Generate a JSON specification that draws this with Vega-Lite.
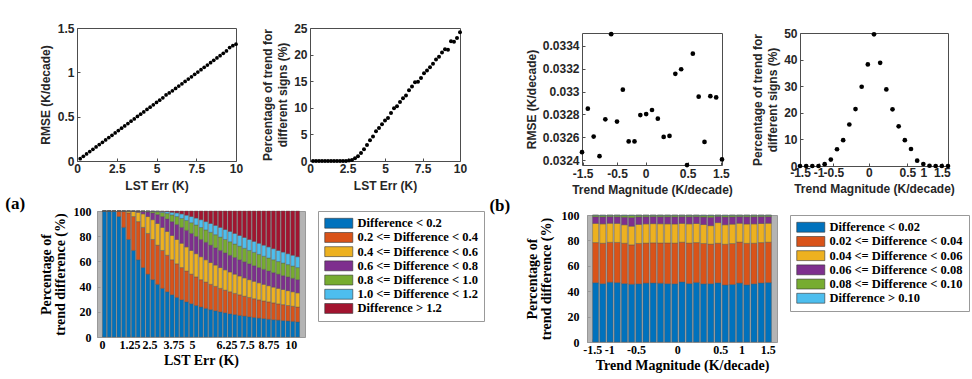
{
"$schema": "https://vega.github.io/schema/vega-lite/v6.json",
"background": "white",
"padding": {"left": 5, "top": 21, "right": 2, "bottom": 2},
"datasets": {
"rmseErr": [
{"lstErr":0.2,"rmse":0.026},{"lstErr":0.4,"rmse":0.053},{"lstErr":0.6,"rmse":0.079},{"lstErr":0.8,"rmse":0.106},{"lstErr":1.0,"rmse":0.132},
{"lstErr":1.2,"rmse":0.158},{"lstErr":1.4,"rmse":0.185},{"lstErr":1.6,"rmse":0.211},{"lstErr":1.8,"rmse":0.238},{"lstErr":2.0,"rmse":0.264},
{"lstErr":2.2,"rmse":0.29},{"lstErr":2.4,"rmse":0.317},{"lstErr":2.6,"rmse":0.343},{"lstErr":2.8,"rmse":0.37},{"lstErr":3.0,"rmse":0.396},
{"lstErr":3.2,"rmse":0.422},{"lstErr":3.4,"rmse":0.449},{"lstErr":3.6,"rmse":0.475},{"lstErr":3.8,"rmse":0.502},{"lstErr":4.0,"rmse":0.528},
{"lstErr":4.2,"rmse":0.554},{"lstErr":4.4,"rmse":0.581},{"lstErr":4.6,"rmse":0.607},{"lstErr":4.8,"rmse":0.634},{"lstErr":5.0,"rmse":0.66},
{"lstErr":5.2,"rmse":0.686},{"lstErr":5.4,"rmse":0.713},{"lstErr":5.6,"rmse":0.745},{"lstErr":5.8,"rmse":0.768},{"lstErr":6.0,"rmse":0.792},
{"lstErr":6.2,"rmse":0.818},{"lstErr":6.4,"rmse":0.845},{"lstErr":6.6,"rmse":0.871},{"lstErr":6.8,"rmse":0.898},{"lstErr":7.0,"rmse":0.924},
{"lstErr":7.2,"rmse":0.95},{"lstErr":7.4,"rmse":0.977},{"lstErr":7.6,"rmse":1.003},{"lstErr":7.8,"rmse":1.03},{"lstErr":8.0,"rmse":1.056},
{"lstErr":8.2,"rmse":1.082},{"lstErr":8.4,"rmse":1.109},{"lstErr":8.6,"rmse":1.135},{"lstErr":8.8,"rmse":1.162},{"lstErr":9.0,"rmse":1.188},
{"lstErr":9.2,"rmse":1.214},{"lstErr":9.4,"rmse":1.241},{"lstErr":9.6,"rmse":1.28},{"lstErr":9.8,"rmse":1.3},{"lstErr":10.0,"rmse":1.318}
],
"signErr": [
{"lstErr":0.2,"pct":0},{"lstErr":0.4,"pct":0},{"lstErr":0.6,"pct":0},{"lstErr":0.8,"pct":0},{"lstErr":1.0,"pct":0},
{"lstErr":1.2,"pct":0},{"lstErr":1.4,"pct":0},{"lstErr":1.6,"pct":0},{"lstErr":1.8,"pct":0},{"lstErr":2.0,"pct":0},
{"lstErr":2.2,"pct":0},{"lstErr":2.4,"pct":0},{"lstErr":2.6,"pct":0.1},{"lstErr":2.8,"pct":0.2},{"lstErr":3.0,"pct":0.5},
{"lstErr":3.2,"pct":0.9},{"lstErr":3.4,"pct":1.5},{"lstErr":3.6,"pct":2.2},{"lstErr":3.8,"pct":3.0},{"lstErr":4.0,"pct":3.9},
{"lstErr":4.2,"pct":4.6},{"lstErr":4.4,"pct":5.6},{"lstErr":4.6,"pct":6.2},{"lstErr":4.8,"pct":6.9},{"lstErr":5.0,"pct":7.6},
{"lstErr":5.2,"pct":8.1},{"lstErr":5.4,"pct":9.0},{"lstErr":5.6,"pct":9.9},{"lstErr":5.8,"pct":10.3},{"lstErr":6.0,"pct":11.1},
{"lstErr":6.2,"pct":11.8},{"lstErr":6.4,"pct":12.3},{"lstErr":6.6,"pct":13.3},{"lstErr":6.8,"pct":14.0},{"lstErr":7.0,"pct":14.8},
{"lstErr":7.2,"pct":14.9},{"lstErr":7.4,"pct":15.6},{"lstErr":7.6,"pct":16.5},{"lstErr":7.8,"pct":17.0},{"lstErr":8.0,"pct":17.6},
{"lstErr":8.2,"pct":18.3},{"lstErr":8.4,"pct":19.1},{"lstErr":8.6,"pct":19.6},{"lstErr":8.8,"pct":20.4},{"lstErr":9.0,"pct":21.0},
{"lstErr":9.2,"pct":20.9},{"lstErr":9.4,"pct":22.5},{"lstErr":9.6,"pct":22.4},{"lstErr":9.8,"pct":23.1},{"lstErr":10.0,"pct":24.2}
],
"stackA": [
{"e":0,"c1":100,"c2":0,"c3":0,"c4":0,"c5":0,"c6":0,"c7":0},
{"e":0.25,"c1":100,"c2":0,"c3":0,"c4":0,"c5":0,"c6":0,"c7":0},
{"e":0.5,"c1":99.7,"c2":0.3,"c3":0,"c4":0,"c5":0,"c6":0,"c7":0},
{"e":0.75,"c1":95.6,"c2":4.4,"c3":0,"c4":0,"c5":0,"c6":0,"c7":0},
{"e":1.0,"c1":87.0,"c2":12.8,"c3":0.2,"c4":0,"c5":0,"c6":0,"c7":0},
{"e":1.25,"c1":77.4,"c2":21.1,"c3":1.5,"c4":0,"c5":0,"c6":0,"c7":0},
{"e":1.5,"c1":68.7,"c2":26.9,"c3":4.1,"c4":0.3,"c5":0,"c6":0,"c7":0},
{"e":1.75,"c1":61.3,"c2":30.3,"c3":7.4,"c4":0.9,"c5":0.1,"c6":0,"c7":0},
{"e":2.0,"c1":55.1,"c2":31.9,"c3":10.7,"c4":2.0,"c5":0.3,"c6":0,"c7":0},
{"e":2.25,"c1":49.9,"c2":32.3,"c3":13.4,"c4":3.7,"c5":0.6,"c6":0.1,"c7":0},
{"e":2.5,"c1":45.5,"c2":31.9,"c3":15.7,"c4":5.4,"c5":1.2,"c6":0.2,"c7":0.1},
{"e":2.75,"c1":41.8,"c2":31.1,"c3":17.2,"c4":7.1,"c5":2.2,"c6":0.5,"c7":0.1},
{"e":3.0,"c1":38.6,"c2":30.1,"c3":18.3,"c4":8.6,"c5":3.2,"c6":0.9,"c7":0.3},
{"e":3.25,"c1":35.9,"c2":29.0,"c3":18.9,"c4":9.9,"c5":4.3,"c6":1.5,"c7":0.5},
{"e":3.5,"c1":33.5,"c2":27.8,"c3":19.3,"c4":11.0,"c5":5.3,"c6":2.1,"c7":1.0},
{"e":3.75,"c1":31.4,"c2":26.7,"c3":19.3,"c4":11.9,"c5":6.3,"c6":2.9,"c7":1.5},
{"e":4.0,"c1":29.5,"c2":25.6,"c3":19.3,"c4":12.6,"c5":7.1,"c6":3.6,"c7":2.3},
{"e":4.25,"c1":27.9,"c2":24.5,"c3":19.1,"c4":13.1,"c5":7.9,"c6":4.2,"c7":3.3},
{"e":4.5,"c1":26.4,"c2":23.5,"c3":18.8,"c4":13.5,"c5":8.5,"c6":4.9,"c7":4.4},
{"e":4.75,"c1":25.0,"c2":22.7,"c3":18.4,"c4":13.7,"c5":9.1,"c6":5.5,"c7":5.6},
{"e":5.0,"c1":23.8,"c2":21.7,"c3":18.2,"c4":13.7,"c5":9.5,"c6":6.2,"c7":6.9},
{"e":5.25,"c1":22.7,"c2":20.9,"c3":17.7,"c4":13.9,"c5":9.8,"c6":6.6,"c7":8.4},
{"e":5.5,"c1":21.7,"c2":20.1,"c3":17.3,"c4":13.8,"c5":10.2,"c6":7.0,"c7":9.9},
{"e":5.75,"c1":20.8,"c2":19.4,"c3":16.9,"c4":13.7,"c5":10.4,"c6":7.4,"c7":11.4},
{"e":6.0,"c1":19.9,"c2":18.7,"c3":16.5,"c4":13.6,"c5":10.6,"c6":7.7,"c7":13.0},
{"e":6.25,"c1":19.2,"c2":18.0,"c3":16.1,"c4":13.5,"c5":10.6,"c6":7.9,"c7":14.7},
{"e":6.5,"c1":18.4,"c2":17.5,"c3":15.7,"c4":13.3,"c5":10.7,"c6":8.2,"c7":16.2},
{"e":6.75,"c1":17.8,"c2":16.8,"c3":15.3,"c4":13.2,"c5":10.7,"c6":8.4,"c7":17.8},
{"e":7.0,"c1":17.1,"c2":16.4,"c3":14.9,"c4":12.9,"c5":10.8,"c6":8.5,"c7":19.4},
{"e":7.25,"c1":16.6,"c2":15.8,"c3":14.5,"c4":12.8,"c5":10.7,"c6":8.6,"c7":21.0},
{"e":7.5,"c1":16.0,"c2":15.4,"c3":14.1,"c4":12.6,"c5":10.6,"c6":8.7,"c7":22.6},
{"e":7.75,"c1":15.5,"c2":14.9,"c3":13.8,"c4":12.4,"c5":10.6,"c6":8.7,"c7":24.1},
{"e":8.0,"c1":15.0,"c2":14.5,"c3":13.5,"c4":12.1,"c5":10.5,"c6":8.8,"c7":25.6},
{"e":8.25,"c1":14.6,"c2":14.0,"c3":13.2,"c4":11.9,"c5":10.4,"c6":8.8,"c7":27.1},
{"e":8.5,"c1":14.1,"c2":13.8,"c3":12.8,"c4":11.7,"c5":10.3,"c6":8.8,"c7":28.5},
{"e":8.75,"c1":13.7,"c2":13.4,"c3":12.5,"c4":11.5,"c5":10.2,"c6":8.8,"c7":29.9},
{"e":9.0,"c1":13.4,"c2":12.9,"c3":12.3,"c4":11.3,"c5":10.0,"c6":8.8,"c7":31.3},
{"e":9.25,"c1":13.0,"c2":12.7,"c3":12.0,"c4":11.0,"c5":10.0,"c6":8.7,"c7":32.6},
{"e":9.5,"c1":12.7,"c2":12.3,"c3":11.8,"c4":10.9,"c5":9.8,"c6":8.6,"c7":33.9},
{"e":9.75,"c1":12.4,"c2":12.0,"c3":11.5,"c4":10.7,"c5":9.7,"c6":8.6,"c7":35.1},
{"e":10.0,"c1":12.0,"c2":11.8,"c3":11.2,"c4":10.5,"c5":9.6,"c6":8.6,"c7":36.3}
],
"rmseTrend": [
{"idx":1,"rmse":0.032472},{"idx":2,"rmse":0.032851},{"idx":3,"rmse":0.032608},{"idx":4,"rmse":0.032437},{"idx":5,"rmse":0.032758},
{"idx":6,"rmse":0.0335},{"idx":7,"rmse":0.032738},{"idx":8,"rmse":0.033016},{"idx":9,"rmse":0.032565},{"idx":10,"rmse":0.032565},
{"idx":11,"rmse":0.032795},{"idx":12,"rmse":0.032804},{"idx":13,"rmse":0.032839},{"idx":14,"rmse":0.032764},{"idx":15,"rmse":0.032605},
{"idx":16,"rmse":0.032613},{"idx":17,"rmse":0.033154},{"idx":18,"rmse":0.033194},{"idx":19,"rmse":0.032359},{"idx":20,"rmse":0.03333},
{"idx":21,"rmse":0.032955},{"idx":22,"rmse":0.032561},{"idx":23,"rmse":0.03296},{"idx":24,"rmse":0.032949},{"idx":25,"rmse":0.032409}
],
"signTrend": [
{"idx":1,"pct":0},{"idx":2,"pct":0},{"idx":3,"pct":0},{"idx":4,"pct":0},{"idx":5,"pct":0.7},
{"idx":6,"pct":2.4},{"idx":7,"pct":6.3},{"idx":8,"pct":9.7},{"idx":9,"pct":15.6},{"idx":10,"pct":21.4},
{"idx":11,"pct":29.8},{"idx":12,"pct":38.2},{"idx":13,"pct":49.5},{"idx":14,"pct":38.8},{"idx":15,"pct":28.8},
{"idx":16,"pct":21.3},{"idx":17,"pct":14.9},{"idx":18,"pct":9.7},{"idx":19,"pct":6.4},{"idx":20,"pct":2.0},
{"idx":21,"pct":0.75},{"idx":22,"pct":0.1},{"idx":23,"pct":0},{"idx":24,"pct":0},{"idx":25,"pct":0}
],
"stackB": [
{"idx":1,"c1":46.7,"c2":31.6,"c3":15.1,"c4":5.2,"c5":1.2,"c6":0.2},
{"idx":2,"c1":45.9,"c2":31.9,"c3":15.2,"c4":5.5,"c5":1.2,"c6":0.3},
{"idx":3,"c1":47.1,"c2":31.4,"c3":15.0,"c4":5.2,"c5":1.1,"c6":0.2},
{"idx":4,"c1":46.8,"c2":31.6,"c3":15.0,"c4":5.2,"c5":1.2,"c6":0.2},
{"idx":5,"c1":46.0,"c2":31.8,"c3":14.5,"c4":6.0,"c5":1.4,"c6":0.3},
{"idx":6,"c1":45.5,"c2":31.0,"c3":14.7,"c4":6.8,"c5":1.7,"c6":0.3},
{"idx":7,"c1":45.8,"c2":31.8,"c3":15.0,"c4":5.9,"c5":1.3,"c6":0.2},
{"idx":8,"c1":46.4,"c2":31.5,"c3":15.1,"c4":5.6,"c5":1.2,"c6":0.2},
{"idx":9,"c1":46.5,"c2":31.6,"c3":15.1,"c4":5.5,"c5":1.1,"c6":0.2},
{"idx":10,"c1":46.3,"c2":31.7,"c3":15.1,"c4":5.5,"c5":1.2,"c6":0.2},
{"idx":11,"c1":45.9,"c2":32.1,"c3":15.0,"c4":5.6,"c5":1.2,"c6":0.2},
{"idx":12,"c1":45.8,"c2":32.1,"c3":15.0,"c4":5.6,"c5":1.3,"c6":0.2},
{"idx":13,"c1":47.3,"c2":31.3,"c3":14.8,"c4":5.3,"c5":1.1,"c6":0.2},
{"idx":14,"c1":46.0,"c2":31.9,"c3":15.1,"c4":5.6,"c5":1.2,"c6":0.2},
{"idx":15,"c1":46.9,"c2":31.4,"c3":15.0,"c4":5.4,"c5":1.1,"c6":0.2},
{"idx":16,"c1":45.8,"c2":31.8,"c3":14.9,"c4":5.9,"c5":1.3,"c6":0.3},
{"idx":17,"c1":45.9,"c2":31.2,"c3":14.5,"c4":6.6,"c5":1.5,"c6":0.3},
{"idx":18,"c1":46.6,"c2":31.2,"c3":16.2,"c4":4.9,"c5":0.9,"c6":0.2},
{"idx":19,"c1":44.9,"c2":32.1,"c3":15.3,"c4":6.1,"c5":1.3,"c6":0.3},
{"idx":20,"c1":45.3,"c2":32.2,"c3":15.3,"c4":5.7,"c5":1.3,"c6":0.2},
{"idx":21,"c1":46.4,"c2":32.3,"c3":14.8,"c4":5.2,"c5":1.1,"c6":0.2},
{"idx":22,"c1":45.0,"c2":32.7,"c3":15.2,"c4":5.7,"c5":1.2,"c6":0.2},
{"idx":23,"c1":45.8,"c2":32.0,"c3":15.2,"c4":5.6,"c5":1.2,"c6":0.2},
{"idx":24,"c1":46.5,"c2":31.8,"c3":15.0,"c4":5.4,"c5":1.1,"c6":0.2},
{"idx":25,"c1":46.8,"c2":31.8,"c3":14.9,"c4":5.2,"c5":1.1,"c6":0.2}
]
},
"config": {
"view": {"stroke": "#4d4d4d", "strokeWidth": 1},
"axis": {"grid": false, "domain": false, "tickSize": -3, "tickColor": "#4d4d4d", "labelColor": "#262626", "titleColor": "#262626", "labelFont": "Liberation Sans", "labelFontWeight": "bold", "labelFontSize": 12, "titleFont": "Liberation Sans", "titleFontWeight": "bold", "titleFontSize": 12, "labelOverlap": false, "labelFlush": false, "labelExpr": "datum.value + ''"},
"legend": {"orient": "right", "offset": 12, "padding": 6, "strokeColor": "#999999", "fillColor": "#ffffff", "labelFont": "Liberation Serif", "labelFontWeight": "bold", "labelFontSize": 12.5, "labelColor": "#000000", "symbolType": "M-1,-0.9H4.1V0.9H-1Z", "symbolSize": 121, "symbolStrokeColor": "#333333", "symbolStrokeWidth": 0.6, "symbolOpacity": 1, "labelOffset": 21, "rowPadding": 1.2}
},
"resolve": {"scale": {"color": "independent"}, "legend": {"color": "independent"}},
"spacing": 4,
"hconcat": [
{
"title": {"text": "(a)", "orient": "left", "anchor": "end", "frame": "bounds", "angle": 0, "align": "right", "baseline": "top", "font": "Liberation Serif", "fontSize": 17, "fontWeight": "bold", "color": "#000000", "offset": -8, "dy": 174},
"spacing": 12,
"resolve": {"scale": {"color": "independent"}, "legend": {"color": "independent"}},
"vconcat": [
{
"spacing": 0,
"hconcat": [
{"width": 1, "height": 1, "view": {"stroke": null}, "data": {"values": []}, "mark": "point", "encoding": {}},
{
"spacing": 17,
"hconcat": [
{
"width": 159, "height": 133,
"data": {"name": "rmseErr"},
"mark": {"type": "circle", "color": "#000000", "opacity": 1, "size": 14},
"encoding": {
"x": {"field": "lstErr", "type": "quantitative", "scale": {"domain": [0, 10], "nice": false}, "axis": {"values": [0, 2.5, 5, 7.5, 10], "title": "LST Err (K)", "labelPadding": 5, "titlePadding": 6}},
"y": {"field": "rmse", "type": "quantitative", "scale": {"domain": [0, 1.5], "nice": false}, "axis": {"values": [0, 0.5, 1, 1.5], "title": "RMSE (K/decade)", "labelPadding": 6, "titlePadding": 5}}
}
},
{
"width": 150, "height": 133,
"data": {"name": "signErr"},
"mark": {"type": "circle", "color": "#000000", "opacity": 1, "size": 16},
"encoding": {
"x": {"field": "lstErr", "type": "quantitative", "scale": {"domain": [0, 10], "nice": false}, "axis": {"values": [0, 2.5, 5, 7.5, 10], "title": "LST Err (K)", "labelPadding": 5, "titlePadding": 6}},
"y": {"field": "pct", "type": "quantitative", "scale": {"domain": [0, 25], "nice": false}, "axis": {"values": [0, 5, 10, 15, 20, 25], "title": ["Percentage of trend for", "different signs (%)"], "titleLineHeight": 15, "labelPadding": 6, "titlePadding": 4}}
}
}
]
}
]
},
{
"spacing": 0,
"hconcat": [
{"width": 1, "height": 1, "view": {"stroke": null}, "data": {"values": []}, "mark": "point", "encoding": {}},
{
"width": 208, "height": 126,
"view": {"stroke": "#999999", "fill": "#b4b4b4"},
"data": {"name": "stackA"},
"transform": [{"fold": ["c1", "c2", "c3", "c4", "c5", "c6", "c7"], "as": ["clsA", "pctA"]}],
"mark": {"type": "bar", "size": 3.9, "stroke": "#555555", "strokeWidth": 0.4},
"encoding": {
"x": {"field": "e", "type": "quantitative", "scale": {"domain": [-0.125, 10.125], "nice": false, "zero": false}, "axis": {"values": [-0.125, 1.3, 2.33, 3.57, 4.54, 6.32, 7.37, 8.49, 9.65], "labelExpr": "{'-0.125':'0','1.3':'1.25','2.33':'2.5','3.57':'3.75','4.54':'5','6.32':'6.25','7.37':'7.5','8.49':'8.75','9.65':'10'}[datum.value]", "title": "LST Err (K)", "labelFont": "Liberation Serif", "labelFontSize": 12, "labelColor": "#000000", "titleFont": "Liberation Serif", "titleFontSize": 14, "titleColor": "#000000", "labelPadding": 5, "titlePadding": 3, "tickColor": "#999999"}},
"y": {"field": "pctA", "type": "quantitative", "stack": "zero", "scale": {"domain": [0, 100], "nice": false}, "axis": {"values": [0, 20, 40, 60, 80, 100], "title": ["Percentage of", "trend difference (%)"], "titleLineHeight": 14, "labelFont": "Liberation Serif", "labelFontSize": 12, "labelColor": "#000000", "titleFont": "Liberation Serif", "titleFontSize": 14, "titleColor": "#000000", "labelPadding": 9, "titlePadding": 6, "tickColor": "#999999"}},
"color": {"field": "clsA", "type": "nominal", "scale": {"domain": ["c1", "c2", "c3", "c4", "c5", "c6", "c7"], "range": ["#0072BD", "#D95319", "#EDB120", "#7E2F8E", "#77AC30", "#4DBEEE", "#A2142F"]}, "legend": {"title": null, "labelExpr": "{'c1':'Difference < 0.2','c2':'0.2 <= Difference < 0.4','c3':'0.4 <= Difference < 0.6','c4':'0.6 <= Difference < 0.8','c5':'0.8 <= Difference < 1.0','c6':'1.0 <= Difference < 1.2','c7':'Difference > 1.2'}[datum.label]"}},
"order": {"field": "clsA", "type": "ordinal"}
}
}
]
}
]
},
{
"title": {"text": "(b)", "orient": "left", "anchor": "end", "frame": "bounds", "angle": 0, "align": "right", "baseline": "top", "font": "Liberation Serif", "fontSize": 17, "fontWeight": "bold", "color": "#000000", "offset": -8, "dy": 171},
"spacing": -3,
"resolve": {"scale": {"color": "independent"}, "legend": {"color": "independent"}},
"vconcat": [
{"width": 1, "height": 1, "view": {"stroke": null}, "data": {"values": []}, "mark": "point", "encoding": {}},
{
"spacing": 12,
"resolve": {"scale": {"color": "independent"}, "legend": {"color": "independent"}},
"vconcat": [
{
"spacing": 0,
"hconcat": [
{"width": 1, "height": 1, "view": {"stroke": null}, "data": {"values": []}, "mark": "point", "encoding": {}},
{
"spacing": 18,
"hconcat": [
{
"width": 140, "height": 132,
"data": {"name": "rmseTrend"},
"mark": {"type": "circle", "color": "#000000", "opacity": 1, "size": 22},
"encoding": {
"x": {"field": "idx", "type": "quantitative", "scale": {"domain": [1, 25], "nice": false, "zero": false}, "axis": {"values": [1.1, 7, 11.9, 19.1, 24.8], "labelExpr": "{'1.1':'-1.5','7':'-0.5','11.9':'0','19.1':'0.5','24.8':'1.5'}[datum.value]", "title": "Trend Magnitude (K/decade)", "labelPadding": 6, "titlePadding": 5}},
"y": {"field": "rmse", "type": "quantitative", "scale": {"domain": [0.03236, 0.03351], "nice": false, "zero": false}, "axis": {"values": [0.0324, 0.0326, 0.0328, 0.033, 0.0332, 0.0334], "title": "RMSE (K/decade)", "labelPadding": 6, "titlePadding": 4}}
}
},
{
"width": 148, "height": 133,
"data": {"name": "signTrend"},
"mark": {"type": "circle", "color": "#000000", "opacity": 1, "size": 22},
"encoding": {
"x": {"field": "idx", "type": "quantitative", "scale": {"domain": [1, 25], "nice": false, "zero": false}, "axis": {"values": [1, 4, 6.4, 12.15, 18.4, 21, 24], "labelExpr": "{'1':'-1.5','4':'-1','6.4':'-0.5','12.15':'0','18.4':'0.5','21':'1','24':'1.5'}[datum.value]", "title": "Trend Magnitude (K/decade)", "labelPadding": 4, "titlePadding": 5}},
"y": {"field": "pct", "type": "quantitative", "scale": {"domain": [0, 50], "nice": false}, "axis": {"values": [0, 10, 20, 30, 40, 50], "title": ["Percentage of trend for", "different signs (%)"], "titleLineHeight": 15, "labelPadding": 6, "titlePadding": 4}}
}
}
]
}
]
},
{
"spacing": 0,
"hconcat": [
{"width": 1, "height": 1, "view": {"stroke": null}, "data": {"values": []}, "mark": "point", "encoding": {}},
{
"width": 190, "height": 127,
"view": {"stroke": "#999999", "fill": "#b4b4b4"},
"data": {"name": "stackB"},
"transform": [{"fold": ["c1", "c2", "c3", "c4", "c5", "c6"], "as": ["clsB", "pctB"]}],
"mark": {"type": "bar", "size": 6, "stroke": "#555555", "strokeWidth": 0.4},
"encoding": {
"x": {"field": "idx", "type": "quantitative", "scale": {"domain": [0.5, 25.5], "nice": false, "zero": false}, "axis": {"values": [0.55, 2.9, 6.6, 12.35, 18.3, 21.25, 24.9], "labelExpr": "{'0.55':'-1.5','2.9':'-1','6.6':'-0.5','12.35':'0','18.3':'0.5','21.25':'1','24.9':'1.5'}[datum.value]", "title": "Trend Magnitude (K/decade)", "labelFont": "Liberation Serif", "labelFontSize": 12, "labelColor": "#000000", "titleFont": "Liberation Serif", "titleFontSize": 14, "titleColor": "#000000", "labelPadding": 5, "titlePadding": 3, "tickColor": "#999999"}},
"y": {"field": "pctB", "type": "quantitative", "stack": "zero", "scale": {"domain": [0, 100], "nice": false}, "axis": {"values": [0, 20, 40, 60, 80, 100], "title": ["Percentage of", "trend difference (%)"], "titleLineHeight": 14, "labelFont": "Liberation Serif", "labelFontSize": 12, "labelColor": "#000000", "titleFont": "Liberation Serif", "titleFontSize": 14, "titleColor": "#000000", "labelPadding": 11, "titlePadding": 8, "tickColor": "#999999"}},
"color": {"field": "clsB", "type": "nominal", "scale": {"domain": ["c1", "c2", "c3", "c4", "c5", "c6"], "range": ["#0072BD", "#D95319", "#EDB120", "#7E2F8E", "#77AC30", "#4DBEEE"]}, "legend": {"title": null, "labelExpr": "{'c1':'Difference < 0.02','c2':'0.02 <= Difference < 0.04','c3':'0.04 <= Difference < 0.06','c4':'0.06 <= Difference < 0.08','c5':'0.08 <= Difference < 0.10','c6':'Difference > 0.10'}[datum.label]"}},
"order": {"field": "clsB", "type": "ordinal"}
}
}
]
}
]
}
]
}
]
}
